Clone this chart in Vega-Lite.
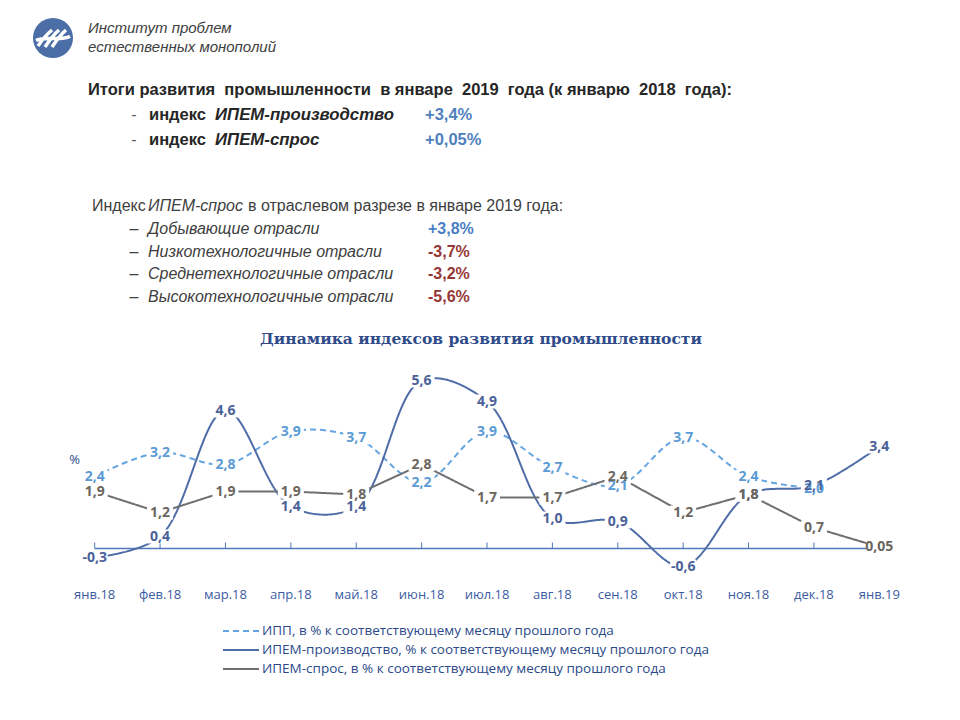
{
  "$schema": "https://vega.github.io/schema/vega-lite/v6.json",
  "width": 960,
  "height": 720,
  "padding": 0,
  "autosize": {"type": "fit", "contains": "padding"},
  "background": "white",
  "config": {"view": {"stroke": null}},
  "datasets": {
    "org": [{"name": "Институт проблем\nестественных монополий", "title": "Динамика индексов развития промышленности"}],
    "hdr1": [
      {"line": 0, "part": "head", "text": "Итоги развития \u00a0промышленности \u00a0в январе \u00a02019 \u00a0года (к январю \u00a02018 \u00a0года):"},
      {"line": 1, "part": "dash", "text": "-"},
      {"line": 2, "part": "dash", "text": "-"},
      {"line": 1, "part": "idx", "text": "индекс"},
      {"line": 2, "part": "idx", "text": "индекс"},
      {"line": 1, "part": "name", "text": "ИПЕМ-производство"},
      {"line": 2, "part": "name", "text": "ИПЕМ-спрос"},
      {"line": 1, "part": "value", "text": "+3,4%"},
      {"line": 2, "part": "value", "text": "+0,05%"}
    ],
    "hdr2": [
      {"line": 0, "part": "lead", "text": "Индекс"},
      {"line": 0, "part": "ital", "text": "ИПЕМ-спрос"},
      {"line": 0, "part": "tail", "text": "в отраслевом разрезе в январе 2019 года:"},
      {"line": 1, "part": "dash", "text": "–"},
      {"line": 2, "part": "dash", "text": "–"},
      {"line": 3, "part": "dash", "text": "–"},
      {"line": 4, "part": "dash", "text": "–"},
      {"line": 1, "part": "ital", "text": "Добывающие отрасли"},
      {"line": 2, "part": "ital", "text": "Низкотехнологичные отрасли"},
      {"line": 3, "part": "ital", "text": "Среднетехнологичные отрасли"},
      {"line": 4, "part": "ital", "text": "Высокотехнологичные отрасли"},
      {"line": 1, "part": "value", "text": "+3,8%"},
      {"line": 2, "part": "value", "text": "-3,7%"},
      {"line": 3, "part": "value", "text": "-3,2%"},
      {"line": 4, "part": "value", "text": "-5,6%"}
    ],
    "series": [
      {"month": "янв.18", "series": "ИПП, в % к соответствующему месяцу прошлого года", "value": 2.4, "label": "2,4"},
      {"month": "фев.18", "series": "ИПП, в % к соответствующему месяцу прошлого года", "value": 3.2, "label": "3,2"},
      {"month": "мар.18", "series": "ИПП, в % к соответствующему месяцу прошлого года", "value": 2.8, "label": "2,8"},
      {"month": "апр.18", "series": "ИПП, в % к соответствующему месяцу прошлого года", "value": 3.9, "label": "3,9"},
      {"month": "май.18", "series": "ИПП, в % к соответствующему месяцу прошлого года", "value": 3.7, "label": "3,7"},
      {"month": "июн.18", "series": "ИПП, в % к соответствующему месяцу прошлого года", "value": 2.2, "label": "2,2"},
      {"month": "июл.18", "series": "ИПП, в % к соответствующему месяцу прошлого года", "value": 3.9, "label": "3,9"},
      {"month": "авг.18", "series": "ИПП, в % к соответствующему месяцу прошлого года", "value": 2.7, "label": "2,7"},
      {"month": "сен.18", "series": "ИПП, в % к соответствующему месяцу прошлого года", "value": 2.1, "label": "2,1"},
      {"month": "окт.18", "series": "ИПП, в % к соответствующему месяцу прошлого года", "value": 3.7, "label": "3,7"},
      {"month": "ноя.18", "series": "ИПП, в % к соответствующему месяцу прошлого года", "value": 2.4, "label": "2,4"},
      {"month": "дек.18", "series": "ИПП, в % к соответствующему месяцу прошлого года", "value": 2.0, "label": "2,0"},
      {"month": "янв.18", "series": "ИПЕМ-производство, % к соответствующему месяцу прошлого года", "value": -0.3, "label": "-0,3"},
      {"month": "фев.18", "series": "ИПЕМ-производство, % к соответствующему месяцу прошлого года", "value": 0.4, "label": "0,4"},
      {"month": "мар.18", "series": "ИПЕМ-производство, % к соответствующему месяцу прошлого года", "value": 4.6, "label": "4,6"},
      {"month": "апр.18", "series": "ИПЕМ-производство, % к соответствующему месяцу прошлого года", "value": 1.4, "label": "1,4"},
      {"month": "май.18", "series": "ИПЕМ-производство, % к соответствующему месяцу прошлого года", "value": 1.4, "label": "1,4"},
      {"month": "июн.18", "series": "ИПЕМ-производство, % к соответствующему месяцу прошлого года", "value": 5.6, "label": "5,6"},
      {"month": "июл.18", "series": "ИПЕМ-производство, % к соответствующему месяцу прошлого года", "value": 4.9, "label": "4,9"},
      {"month": "авг.18", "series": "ИПЕМ-производство, % к соответствующему месяцу прошлого года", "value": 1.0, "label": "1,0"},
      {"month": "сен.18", "series": "ИПЕМ-производство, % к соответствующему месяцу прошлого года", "value": 0.9, "label": "0,9"},
      {"month": "окт.18", "series": "ИПЕМ-производство, % к соответствующему месяцу прошлого года", "value": -0.6, "label": "-0,6"},
      {"month": "ноя.18", "series": "ИПЕМ-производство, % к соответствующему месяцу прошлого года", "value": 1.8, "label": "1,8"},
      {"month": "дек.18", "series": "ИПЕМ-производство, % к соответствующему месяцу прошлого года", "value": 2.1, "label": "2,1"},
      {"month": "янв.19", "series": "ИПЕМ-производство, % к соответствующему месяцу прошлого года", "value": 3.4, "label": "3,4"},
      {"month": "янв.18", "series": "ИПЕМ-спрос, в % к соответствующему месяцу прошлого года", "value": 1.9, "label": "1,9"},
      {"month": "фев.18", "series": "ИПЕМ-спрос, в % к соответствующему месяцу прошлого года", "value": 1.2, "label": "1,2"},
      {"month": "мар.18", "series": "ИПЕМ-спрос, в % к соответствующему месяцу прошлого года", "value": 1.9, "label": "1,9"},
      {"month": "апр.18", "series": "ИПЕМ-спрос, в % к соответствующему месяцу прошлого года", "value": 1.9, "label": "1,9"},
      {"month": "май.18", "series": "ИПЕМ-спрос, в % к соответствующему месяцу прошлого года", "value": 1.8, "label": "1,8"},
      {"month": "июн.18", "series": "ИПЕМ-спрос, в % к соответствующему месяцу прошлого года", "value": 2.8, "label": "2,8"},
      {"month": "июл.18", "series": "ИПЕМ-спрос, в % к соответствующему месяцу прошлого года", "value": 1.7, "label": "1,7"},
      {"month": "авг.18", "series": "ИПЕМ-спрос, в % к соответствующему месяцу прошлого года", "value": 1.7, "label": "1,7"},
      {"month": "сен.18", "series": "ИПЕМ-спрос, в % к соответствующему месяцу прошлого года", "value": 2.4, "label": "2,4"},
      {"month": "окт.18", "series": "ИПЕМ-спрос, в % к соответствующему месяцу прошлого года", "value": 1.2, "label": "1,2"},
      {"month": "ноя.18", "series": "ИПЕМ-спрос, в % к соответствующему месяцу прошлого года", "value": 1.8, "label": "1,8"},
      {"month": "дек.18", "series": "ИПЕМ-спрос, в % к соответствующему месяцу прошлого года", "value": 0.7, "label": "0,7"},
      {"month": "янв.19", "series": "ИПЕМ-спрос, в % к соответствующему месяцу прошлого года", "value": 0.05, "label": "0,05"}
    ]
  },
  "resolve": {"scale": {"x": "independent", "y": "independent"}},
  "layer": [
    {
      "data": {"name": "org"},
      "mark": {"type": "point", "shape": "circle", "filled": true, "size": 1600, "x": 53, "y": 38, "color": "#4b6ea6", "opacity": 1},
      "encoding": {}
    },
    {
      "data": {"name": "org"},
      "mark": {"type": "point", "shape": "M-0.75,0.4 C-0.55,0.1 -0.35,-0.15 -0.05,-0.4 M-0.4,0.45 C-0.2,0.15 0,-0.15 0.3,-0.4 M-0.05,0.45 C0.15,0.15 0.35,-0.15 0.65,-0.4 M-0.85,0.12 C-0.35,-0.12 0.3,0.18 0.85,-0.08", "filled": false, "size": 1600, "x": 53, "y": 38, "color": "white", "strokeWidth": 3.5, "opacity": 1},
      "encoding": {}
    },
    {
      "data": {"name": "org"},
      "mark": {"type": "text", "x": 88, "y": 28, "align": "left", "baseline": "middle", "font": "Liberation Sans", "fontStyle": "italic", "fontSize": 15, "color": "#404040", "lineBreak": "\n", "lineHeight": 19},
      "encoding": {"text": {"field": "name"}}
    },
    {
      "data": {"name": "hdr1"},
      "transform": [{"filter": {"field": "part", "equal": "head"}}],
      "mark": {"type": "text", "x": 88, "align": "left", "baseline": "middle", "font": "Liberation Sans", "fontWeight": "bold", "fontSize": 16.5, "color": "#262626"},
      "encoding": {"y": {"field": "line", "type": "quantitative", "scale": {"domain": [0, 2], "range": [90, 140]}, "axis": null}, "text": {"field": "text"}}
    },
    {
      "data": {"name": "hdr1"},
      "transform": [{"filter": {"field": "part", "equal": "dash"}}],
      "mark": {"type": "text", "x": 134, "align": "center", "baseline": "middle", "font": "Liberation Sans", "fontSize": 16, "color": "#595959"},
      "encoding": {"y": {"field": "line", "type": "quantitative", "scale": {"domain": [0, 2], "range": [90, 140]}, "axis": null}, "text": {"field": "text"}}
    },
    {
      "data": {"name": "hdr1"},
      "transform": [{"filter": {"field": "part", "equal": "idx"}}],
      "mark": {"type": "text", "x": 149, "align": "left", "baseline": "middle", "font": "Liberation Sans", "fontWeight": "bold", "fontSize": 16.5, "color": "#262626"},
      "encoding": {"y": {"field": "line", "type": "quantitative", "scale": {"domain": [0, 2], "range": [90, 140]}, "axis": null}, "text": {"field": "text"}}
    },
    {
      "data": {"name": "hdr1"},
      "transform": [{"filter": {"field": "part", "equal": "name"}}],
      "mark": {"type": "text", "x": 215, "align": "left", "baseline": "middle", "font": "Liberation Sans", "fontWeight": "bold", "fontStyle": "italic", "fontSize": 16.8, "color": "#262626"},
      "encoding": {"y": {"field": "line", "type": "quantitative", "scale": {"domain": [0, 2], "range": [90, 140]}, "axis": null}, "text": {"field": "text"}}
    },
    {
      "data": {"name": "hdr1"},
      "transform": [{"filter": {"field": "part", "equal": "value"}}],
      "mark": {"type": "text", "x": 425, "align": "left", "baseline": "middle", "font": "Liberation Sans", "fontWeight": "bold", "fontSize": 16.5, "color": "#4f81bd"},
      "encoding": {"y": {"field": "line", "type": "quantitative", "scale": {"domain": [0, 2], "range": [90, 140]}, "axis": null}, "text": {"field": "text"}}
    },
    {
      "data": {"name": "hdr2"},
      "transform": [{"filter": {"field": "part", "equal": "lead"}}],
      "mark": {"type": "text", "x": 92, "align": "left", "baseline": "middle", "font": "Liberation Sans", "fontSize": 16, "color": "#404040"},
      "encoding": {"y": {"field": "line", "type": "quantitative", "scale": {"domain": [0, 4], "range": [206, 297]}, "axis": null}, "text": {"field": "text"}}
    },
    {
      "data": {"name": "hdr2"},
      "transform": [{"filter": {"field": "part", "equal": "tail"}}],
      "mark": {"type": "text", "x": 248, "align": "left", "baseline": "middle", "font": "Liberation Sans", "fontSize": 16, "color": "#404040"},
      "encoding": {"y": {"field": "line", "type": "quantitative", "scale": {"domain": [0, 4], "range": [206, 297]}, "axis": null}, "text": {"field": "text"}}
    },
    {
      "data": {"name": "hdr2"},
      "transform": [{"filter": {"field": "part", "equal": "ital"}}],
      "mark": {"type": "text", "x": 148, "align": "left", "baseline": "middle", "font": "Liberation Sans", "fontStyle": "italic", "fontSize": 16, "color": "#404040"},
      "encoding": {"y": {"field": "line", "type": "quantitative", "scale": {"domain": [0, 4], "range": [206, 297]}, "axis": null}, "text": {"field": "text"}}
    },
    {
      "data": {"name": "hdr2"},
      "transform": [{"filter": {"field": "part", "equal": "dash"}}],
      "mark": {"type": "text", "x": 134, "align": "center", "baseline": "middle", "font": "Liberation Sans", "fontSize": 16, "color": "#404040"},
      "encoding": {"y": {"field": "line", "type": "quantitative", "scale": {"domain": [0, 4], "range": [206, 297]}, "axis": null}, "text": {"field": "text"}}
    },
    {
      "data": {"name": "hdr2"},
      "transform": [{"filter": {"field": "part", "equal": "value"}}],
      "mark": {"type": "text", "x": 428, "align": "left", "baseline": "middle", "font": "Liberation Sans", "fontWeight": "bold", "fontSize": 16},
      "encoding": {
        "y": {"field": "line", "type": "quantitative", "scale": {"domain": [0, 4], "range": [206, 297]}, "axis": null},
        "text": {"field": "text"},
        "color": {"condition": {"test": "indexof(datum.text, '+') === 0", "value": "#4a7fc4"}, "value": "#953735"}
      }
    },
    {
      "data": {"name": "org"},
      "mark": {"type": "text", "x": 481, "y": 339, "align": "center", "baseline": "middle", "font": "DejaVu Serif", "fontWeight": "bold", "fontSize": 15.5, "color": "#2f4b89"},
      "encoding": {"text": {"field": "title"}}
    },
    {
      "data": {"name": "series"},
      "layer": [
        {
          "transform": [{"filter": {"field": "series", "equal": "ИПЕМ-спрос, в % к соответствующему месяцу прошлого года"}}],
          "mark": {"type": "line", "color": "#4f78bd", "strokeWidth": 1.5},
          "encoding": {
            "x": {"field": "month", "type": "ordinal", "sort": null, "scale": {"type": "point", "domain": ["янв.18", "фев.18", "мар.18", "апр.18", "май.18", "июн.18", "июл.18", "авг.18", "сен.18", "окт.18", "ноя.18", "дек.18", "янв.19"], "range": [62, 912]}, "axis": null},
            "y": {"datum": 0, "type": "quantitative", "scale": {"domain": [-1, 6], "range": [578.5, 368.5]}, "axis": null}
          }
        },
        {
          "transform": [{"filter": {"field": "series", "equal": "ИПЕМ-спрос, в % к соответствующему месяцу прошлого года"}}],
          "mark": {"type": "rule", "color": "#4f78bd", "strokeWidth": 1},
          "encoding": {
            "x": {"field": "month", "type": "ordinal", "sort": null, "axis": null},
            "y": {"datum": 0, "type": "quantitative", "axis": null},
            "y2": {"datum": 0.2}
          }
        },
        {
          "transform": [{"filter": {"field": "series", "equal": "ИПП, в % к соответствующему месяцу прошлого года"}}],
          "mark": {"type": "line", "interpolate": "catmull-rom", "strokeWidth": 2},
          "encoding": {
            "x": {"field": "month", "type": "ordinal", "sort": null, "axis": null},
            "y": {"field": "value", "type": "quantitative", "axis": null},
            "color": {"field": "series", "type": "nominal", "scale": {"domain": ["ИПП, в % к соответствующему месяцу прошлого года", "ИПЕМ-производство, % к соответствующему месяцу прошлого года", "ИПЕМ-спрос, в % к соответствующему месяцу прошлого года"], "range": ["#65a6e2", "#4e6ca7", "#6d6f73"]}, "legend": {"orient": "none", "legendX": 230, "legendY": 620, "title": null, "direction": "vertical", "symbolType": "M-1.8,0 L1.8,0", "symbolSize": 400, "symbolStrokeWidth": 2, "labelFont": "Open Sans", "labelFontSize": 13.5, "labelColor": "#2c4a8a", "labelLimit": 700, "labelOffset": 10, "rowPadding": 1}},
            "strokeDash": {"field": "series", "type": "nominal", "scale": {"domain": ["ИПП, в % к соответствующему месяцу прошлого года", "ИПЕМ-производство, % к соответствующему месяцу прошлого года", "ИПЕМ-спрос, в % к соответствующему месяцу прошлого года"], "range": [[6, 4], [1, 0], [1, 0]]}, "legend": {"orient": "none", "legendX": 230, "legendY": 620, "title": null, "direction": "vertical", "symbolType": "M-1.8,0 L1.8,0", "symbolSize": 400, "symbolStrokeWidth": 2, "labelFont": "Open Sans", "labelFontSize": 13.5, "labelColor": "#2c4a8a", "labelLimit": 700, "labelOffset": 10, "rowPadding": 1}}
          }
        },
        {
          "transform": [{"filter": {"field": "series", "equal": "ИПЕМ-производство, % к соответствующему месяцу прошлого года"}}],
          "mark": {"type": "line", "interpolate": "catmull-rom", "strokeWidth": 2},
          "encoding": {
            "x": {"field": "month", "type": "ordinal", "sort": null, "axis": null},
            "y": {"field": "value", "type": "quantitative", "axis": null},
            "color": {"field": "series", "type": "nominal"},
            "strokeDash": {"field": "series", "type": "nominal"}
          }
        },
        {
          "transform": [{"filter": {"field": "series", "equal": "ИПЕМ-спрос, в % к соответствующему месяцу прошлого года"}}],
          "mark": {"type": "line", "strokeWidth": 2},
          "encoding": {
            "x": {"field": "month", "type": "ordinal", "sort": null, "axis": null},
            "y": {"field": "value", "type": "quantitative", "axis": null},
            "color": {"field": "series", "type": "nominal"},
            "strokeDash": {"field": "series", "type": "nominal"}
          }
        },
        {
          "mark": {"type": "point", "shape": "M-1.3,-0.7 L1.3,-0.7 L1.3,0.7 L-1.3,0.7 Z", "size": 400, "filled": true, "color": "white", "opacity": 1, "strokeWidth": 0},
          "encoding": {
            "x": {"field": "month", "type": "ordinal", "sort": null, "axis": null},
            "y": {"field": "value", "type": "quantitative", "axis": null}
          }
        },
        {
          "transform": [{"filter": {"field": "series", "equal": "ИПП, в % к соответствующему месяцу прошлого года"}}],
          "mark": {"type": "text", "font": "Open Sans", "fontSize": 14, "fontWeight": "bold", "fill": "#5b9bd5", "baseline": "middle"},
          "encoding": {
            "x": {"field": "month", "type": "ordinal", "sort": null, "axis": null},
            "y": {"field": "value", "type": "quantitative", "axis": null},
            "text": {"field": "label"}
          }
        },
        {
          "transform": [{"filter": {"field": "series", "equal": "ИПЕМ-производство, % к соответствующему месяцу прошлого года"}}],
          "mark": {"type": "text", "font": "Open Sans", "fontSize": 14, "fontWeight": "bold", "fill": "#4a6298", "baseline": "middle"},
          "encoding": {
            "x": {"field": "month", "type": "ordinal", "sort": null, "axis": null},
            "y": {"field": "value", "type": "quantitative", "axis": null},
            "text": {"field": "label"}
          }
        },
        {
          "transform": [{"filter": {"field": "series", "equal": "ИПЕМ-спрос, в % к соответствующему месяцу прошлого года"}}],
          "mark": {"type": "text", "font": "Open Sans", "fontSize": 14, "fontWeight": "bold", "fill": "#6b665e", "baseline": "middle"},
          "encoding": {
            "x": {"field": "month", "type": "ordinal", "sort": null, "axis": null},
            "y": {"field": "value", "type": "quantitative", "axis": null},
            "text": {"field": "label"}
          }
        },
        {
          "transform": [{"filter": {"field": "series", "equal": "ИПЕМ-спрос, в % к соответствующему месяцу прошлого года"}}],
          "mark": {"type": "text", "font": "Open Sans", "fontSize": 13, "fill": "#3b5ca3", "baseline": "middle"},
          "encoding": {
            "x": {"field": "month", "type": "ordinal", "sort": null, "axis": null},
            "y": {"datum": -1.55, "type": "quantitative", "axis": null},
            "text": {"field": "month"}
          }
        },
        {
          "data": {"values": [{"unit": "%"}]},
          "mark": {"type": "text", "font": "Open Sans", "fontSize": 13, "fill": "#2c4a8a", "baseline": "middle", "dx": -20},
          "encoding": {
            "x": {"datum": "янв.18", "type": "ordinal", "axis": null},
            "y": {"datum": 2.95, "type": "quantitative", "axis": null},
            "text": {"field": "unit"}
          }
        }
      ]
    }
  ]
}
